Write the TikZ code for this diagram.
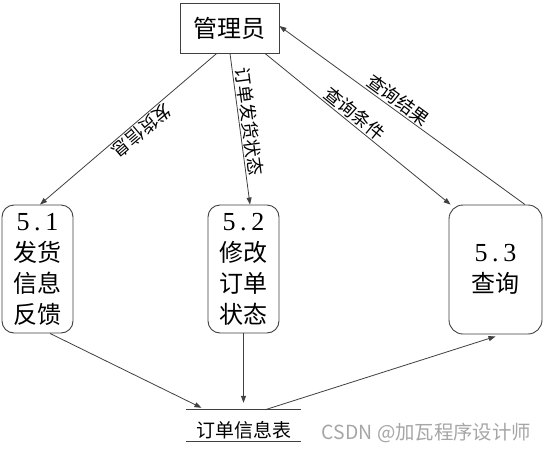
\documentclass[tikz,border=0pt]{standalone}
\usepackage{fontspec}
\newfontfamily\cjk{Noto Sans CJK SC}
\newfontfamily\numf[LetterSpace=18]{Liberation Serif}
\usetikzlibrary{arrows.meta,calc}
\definecolor{linec}{HTML}{404040}
\definecolor{wmark}{HTML}{A6A6A6}
\newcommand{\procnum}[1]{{\numf\fontsize{26}{31}\selectfont #1}}
\begin{document}
\begin{tikzpicture}[x=1pt,y=-1pt,
  proc/.style={draw=linec, line width=0.9pt, rounded corners=12pt, minimum width=71pt, minimum height=128pt, inner sep=0pt, align=center, font=\cjk\fontsize{24}{31}\selectfont},
  ent/.style={draw=linec, line width=0.9pt, minimum width=99pt, minimum height=50pt, inner sep=0pt, font=\cjk\fontsize{24}{29}\selectfont},
  flow/.style={draw=linec, line width=0.8pt, -{Triangle[length=7pt,width=5pt]}},
  lab/.style={font=\cjk\fontsize{18}{18}\selectfont, inner sep=1.5pt, anchor=south},
  storebox/.style={minimum width=114pt, minimum height=31pt, inner sep=0pt},
  storeline/.style={draw=linec, line width=0.9pt},
]
\useasboundingbox[fill=white] (0,0) rectangle (547,453);

\node[ent] (mgr) at (229.5,28) {管理员};
\node[proc] (p1) at (37.5,269) {\procnum{5.1}\\发货\\信息\\反馈};
\node[proc] (p2) at (243.5,269) {\procnum{5.2}\\修改\\订单\\状态};
\node[proc, minimum width=93pt, minimum height=129pt, rounded corners=14pt] (p3) at (495.5,269.5) {\procnum{5.3}\\查询};

\node[storebox] (store) at (243.5,425.5) {};
\draw[storeline] (store.north west) -- (store.north east);
\draw[storeline] (store.south west) -- (store.south east);
\node[font=\cjk\fontsize{19}{19}\selectfont, inner sep=0pt] (storetext) at (243.5,430) {订单信息表};

\draw[flow] ([xshift=-12.8pt]mgr.south) -- node[lab, pos=0.46, rotate=220.5] {发货信息} ([xshift=2.5pt]p1.north);
\draw[flow] ([xshift=0.5pt]mgr.south) -- node[lab, pos=0.46, rotate=-82.5] {订单发货状态} ([xshift=6.5pt]p2.north);
\draw[flow] ([xshift=35.5pt]mgr.south) -- node[lab, pos=0.45, rotate=-39.3] {查询条件} ([xshift=2pt]p3.north west);
\draw[flow] ([xshift=29.5pt]p3.north) -- node[lab, pos=0.54, rotate=-36.2] {查询结果} ([yshift=2pt]mgr.east);
\draw[flow] ([xshift=12.5pt]p1.south) -- ([xshift=-42pt,yshift=2pt]store.north);
\draw[flow] (p2.south) -- ([yshift=7pt]store.north);
\draw[flow] ([xshift=21.5pt]store.north) -- ([yshift=-2pt]p3.south);

\node[font=\cjk\fontsize{19.4}{19.4}\selectfont, text=wmark, anchor=west, inner sep=0pt] (wm) at (321.7,432.5) {CSDN @加瓦程序设计师};
\end{tikzpicture}
\end{document}
